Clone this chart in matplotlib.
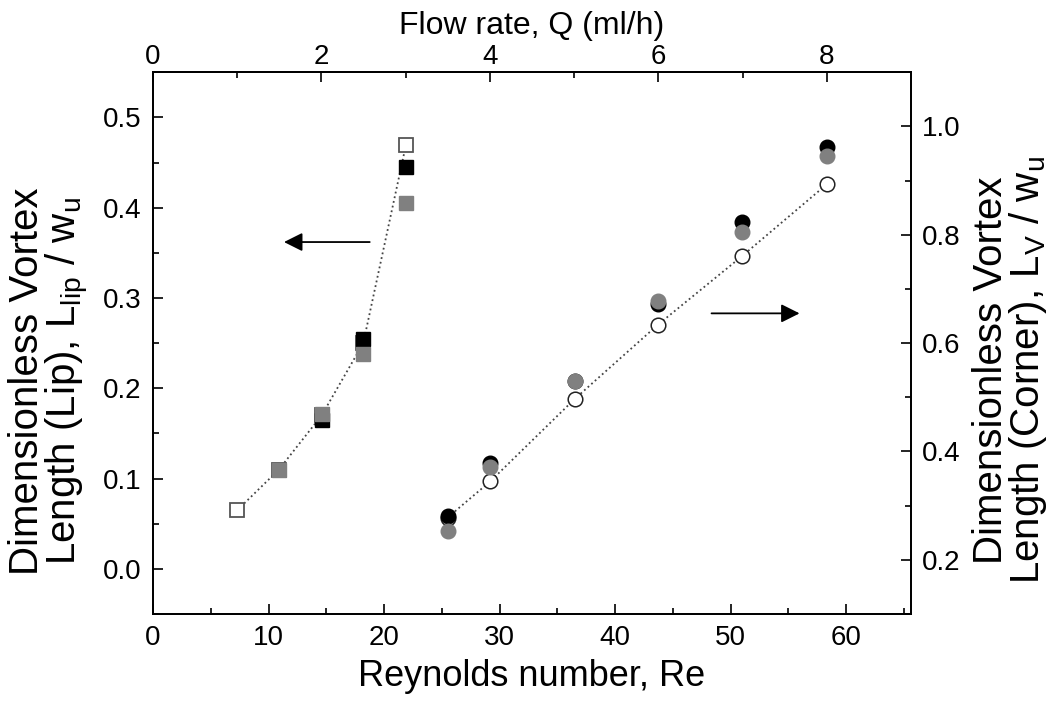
import matplotlib
matplotlib.use('Agg')
import matplotlib.pyplot as plt

plt.rcParams['font.family'] = ['Liberation Sans', 'DejaVu Sans']
plt.rcParams['mathtext.default'] = 'regular'

# data
re_per_q = 7.29          # Reynolds number per ml/h
re_lip = [7.3, 10.9, 14.6, 18.2, 21.9]
lip_open = [0.065, 0.110, 0.170, 0.250, 0.470]
re_lip_black = [14.6, 18.2, 21.9]
lip_black = [0.165, 0.255, 0.445]
re_lip_gray = [10.9, 14.6, 18.2, 21.9]
lip_gray = [0.110, 0.172, 0.238, 0.405]

re_corner = [25.5, 29.2, 36.5, 43.7, 51.0, 58.3]
corner_open = [0.278, 0.345, 0.497, 0.634, 0.761, 0.893]
corner_black = [0.280, 0.378, 0.530, 0.673, 0.823, 0.963]
corner_gray = [0.253, 0.372, 0.531, 0.677, 0.806, 0.945]

fig = plt.figure(figsize=(10.6, 7.09), dpi=100)
ax = fig.add_axes([0.1443, 0.134, 0.7151, 0.764])
ax_r = ax.twinx()

# left axis: lip vortex (squares)
ax.plot(re_lip, lip_open, ls=':', color='#444444', lw=1.3, marker='s', ms=9.5,
        mfc='white', mec='#555555', mew=1.3, zorder=2)
ax.plot(re_lip_black, lip_black, ls='none', marker='s', ms=9.5, color='black', zorder=3)
ax.plot(re_lip_gray, lip_gray, ls='none', marker='s', ms=9.5, color='#808080', zorder=4)

# right axis: corner vortex (circles)
ax_r.plot(re_corner, corner_open, ls=':', color='#444444', lw=1.3, marker='o', ms=10.5,
          mfc='white', mec='#222222', mew=1.1, zorder=2)
ax_r.plot(re_corner, corner_black, ls='none', marker='o', ms=10.5, color='black', zorder=3)
ax_r.plot(re_corner, corner_gray, ls='none', marker='o', ms=10.5, color='#808080', zorder=4)

# arrows showing which axis each set belongs to
ax.annotate('', xy=(11.1, 0.362), xytext=(19.0, 0.362),
            arrowprops=dict(arrowstyle='-|>', color='black', lw=1.3, mutation_scale=28))
ax_r.annotate('', xy=(56.2, 0.655), xytext=(48.1, 0.655),
              arrowprops=dict(arrowstyle='-|>', color='black', lw=1.3, mutation_scale=28))

ax.set_xlim(0, 65.6)
ax.set_ylim(-0.05, 0.55)
ax_r.set_ylim(0.1, 1.1)

ax.set_xticks([0, 10, 20, 30, 40, 50, 60])
ax.set_xticks(range(5, 66, 10), minor=True)
ax.set_yticks([0.0, 0.1, 0.2, 0.3, 0.4, 0.5])
ax.set_yticks([-0.05, 0.05, 0.15, 0.25, 0.35, 0.45, 0.55], minor=True)
ax.set_yticklabels(['0.0', '0.1', '0.2', '0.3', '0.4', '0.5'])
ax_r.set_yticks([0.2, 0.4, 0.6, 0.8, 1.0])
ax_r.set_yticks([0.1, 0.3, 0.5, 0.7, 0.9, 1.1], minor=True)
ax_r.set_yticklabels(['0.2', '0.4', '0.6', '0.8', '1.0'])

top = ax.secondary_xaxis('top', functions=(lambda r: r / re_per_q, lambda q: q * re_per_q))
top.set_xticks([0, 2, 4, 6, 8])
top.set_xticks([1, 3, 5, 7, 9], minor=True)

for a in (ax, ax_r, top):
    a.tick_params(which='major', direction='in', length=7, width=1.2, labelsize=20, pad=8)
    a.tick_params(which='minor', direction='in', length=4, width=1.2)
top.tick_params(which='major', pad=2)
for a in (ax, ax_r):
    for s in a.spines.values():
        s.set_linewidth(1.3)
top.spines['top'].set_linewidth(1.3)

ax.set_xlabel('Reynolds number, Re', fontsize=26, labelpad=6)
top.set_xlabel('Flow rate, Q (ml/h)', fontsize=23, labelpad=7)
ax.set_ylabel('Dimensionless Vortex\nLength (Lip), L$_{lip}$ / w$_u$', fontsize=29,
              linespacing=0.92)
ax.yaxis.set_label_coords(-0.082, 0.43)
ax_r.set_ylabel('Dimensionless Vortex\nLength (Corner), L$_V$ / w$_u$', fontsize=29,
                rotation=90, linespacing=0.92)
ax_r.yaxis.set_label_coords(1.08, 0.45)

fig.savefig('out.png', dpi=100)
